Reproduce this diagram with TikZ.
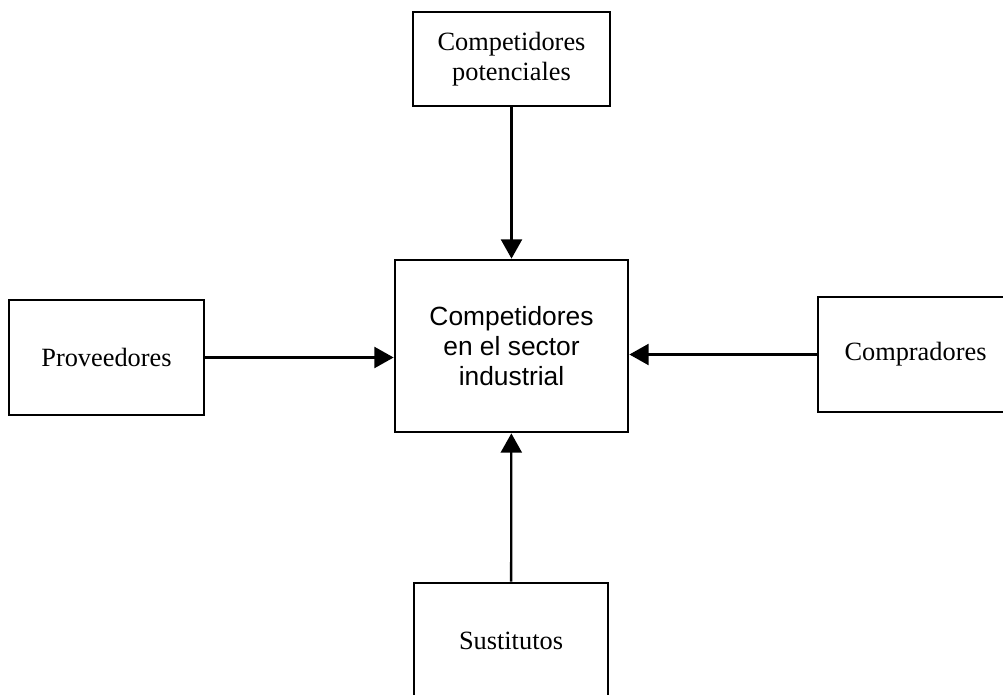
\documentclass[tikz,border=0pt]{standalone}
\usepackage{fontspec}
\setmainfont{Liberation Serif}
\setsansfont{Liberation Sans}
\usepackage{tikz}
\usetikzlibrary{arrows.meta}

\begin{document}
\begin{tikzpicture}[x=0.02cm,y=-0.02cm,
    >={Triangle[length=11pt,width=12pt]},
    force/.style={draw,line width=1.6pt,align=center,inner sep=0pt,
      font=\fontsize{15}{17}\selectfont},
    link/.style={->,line width=1.3pt,shorten >=0pt}]
  \clip (0,0) rectangle (1003,695);
  \node[force,minimum width=3.94cm,minimum height=1.88cm] (pot) at (511.5,59)
    {Competidores\\potenciales};
  \node[force,minimum width=4.66cm,minimum height=3.44cm,font=\sffamily\fontsize{15}{17}\selectfont] (rival) at (511.5,346)
    {Competidores\\en el sector\\industrial};
  \node[force,minimum width=3.9cm,minimum height=2.3cm] (prov) at (106.5,357.5)
    {Proveedores};
  \node[force,minimum width=3.9cm,minimum height=2.3cm] (comp) at (915.5,354.5)
    {Compradores};
  \node[force,minimum width=3.88cm,minimum height=2.3cm] (sust) at (511,640.5)
    {Sustitutos};
  \draw[link] (pot) -- (rival);
  \draw[link] (sust) -- (rival);
  \draw[link] (prov.east) -- (prov.east -| rival.west);
  \draw[link] (comp.west) -- (comp.west -| rival.east);
\end{tikzpicture}
\end{document}
